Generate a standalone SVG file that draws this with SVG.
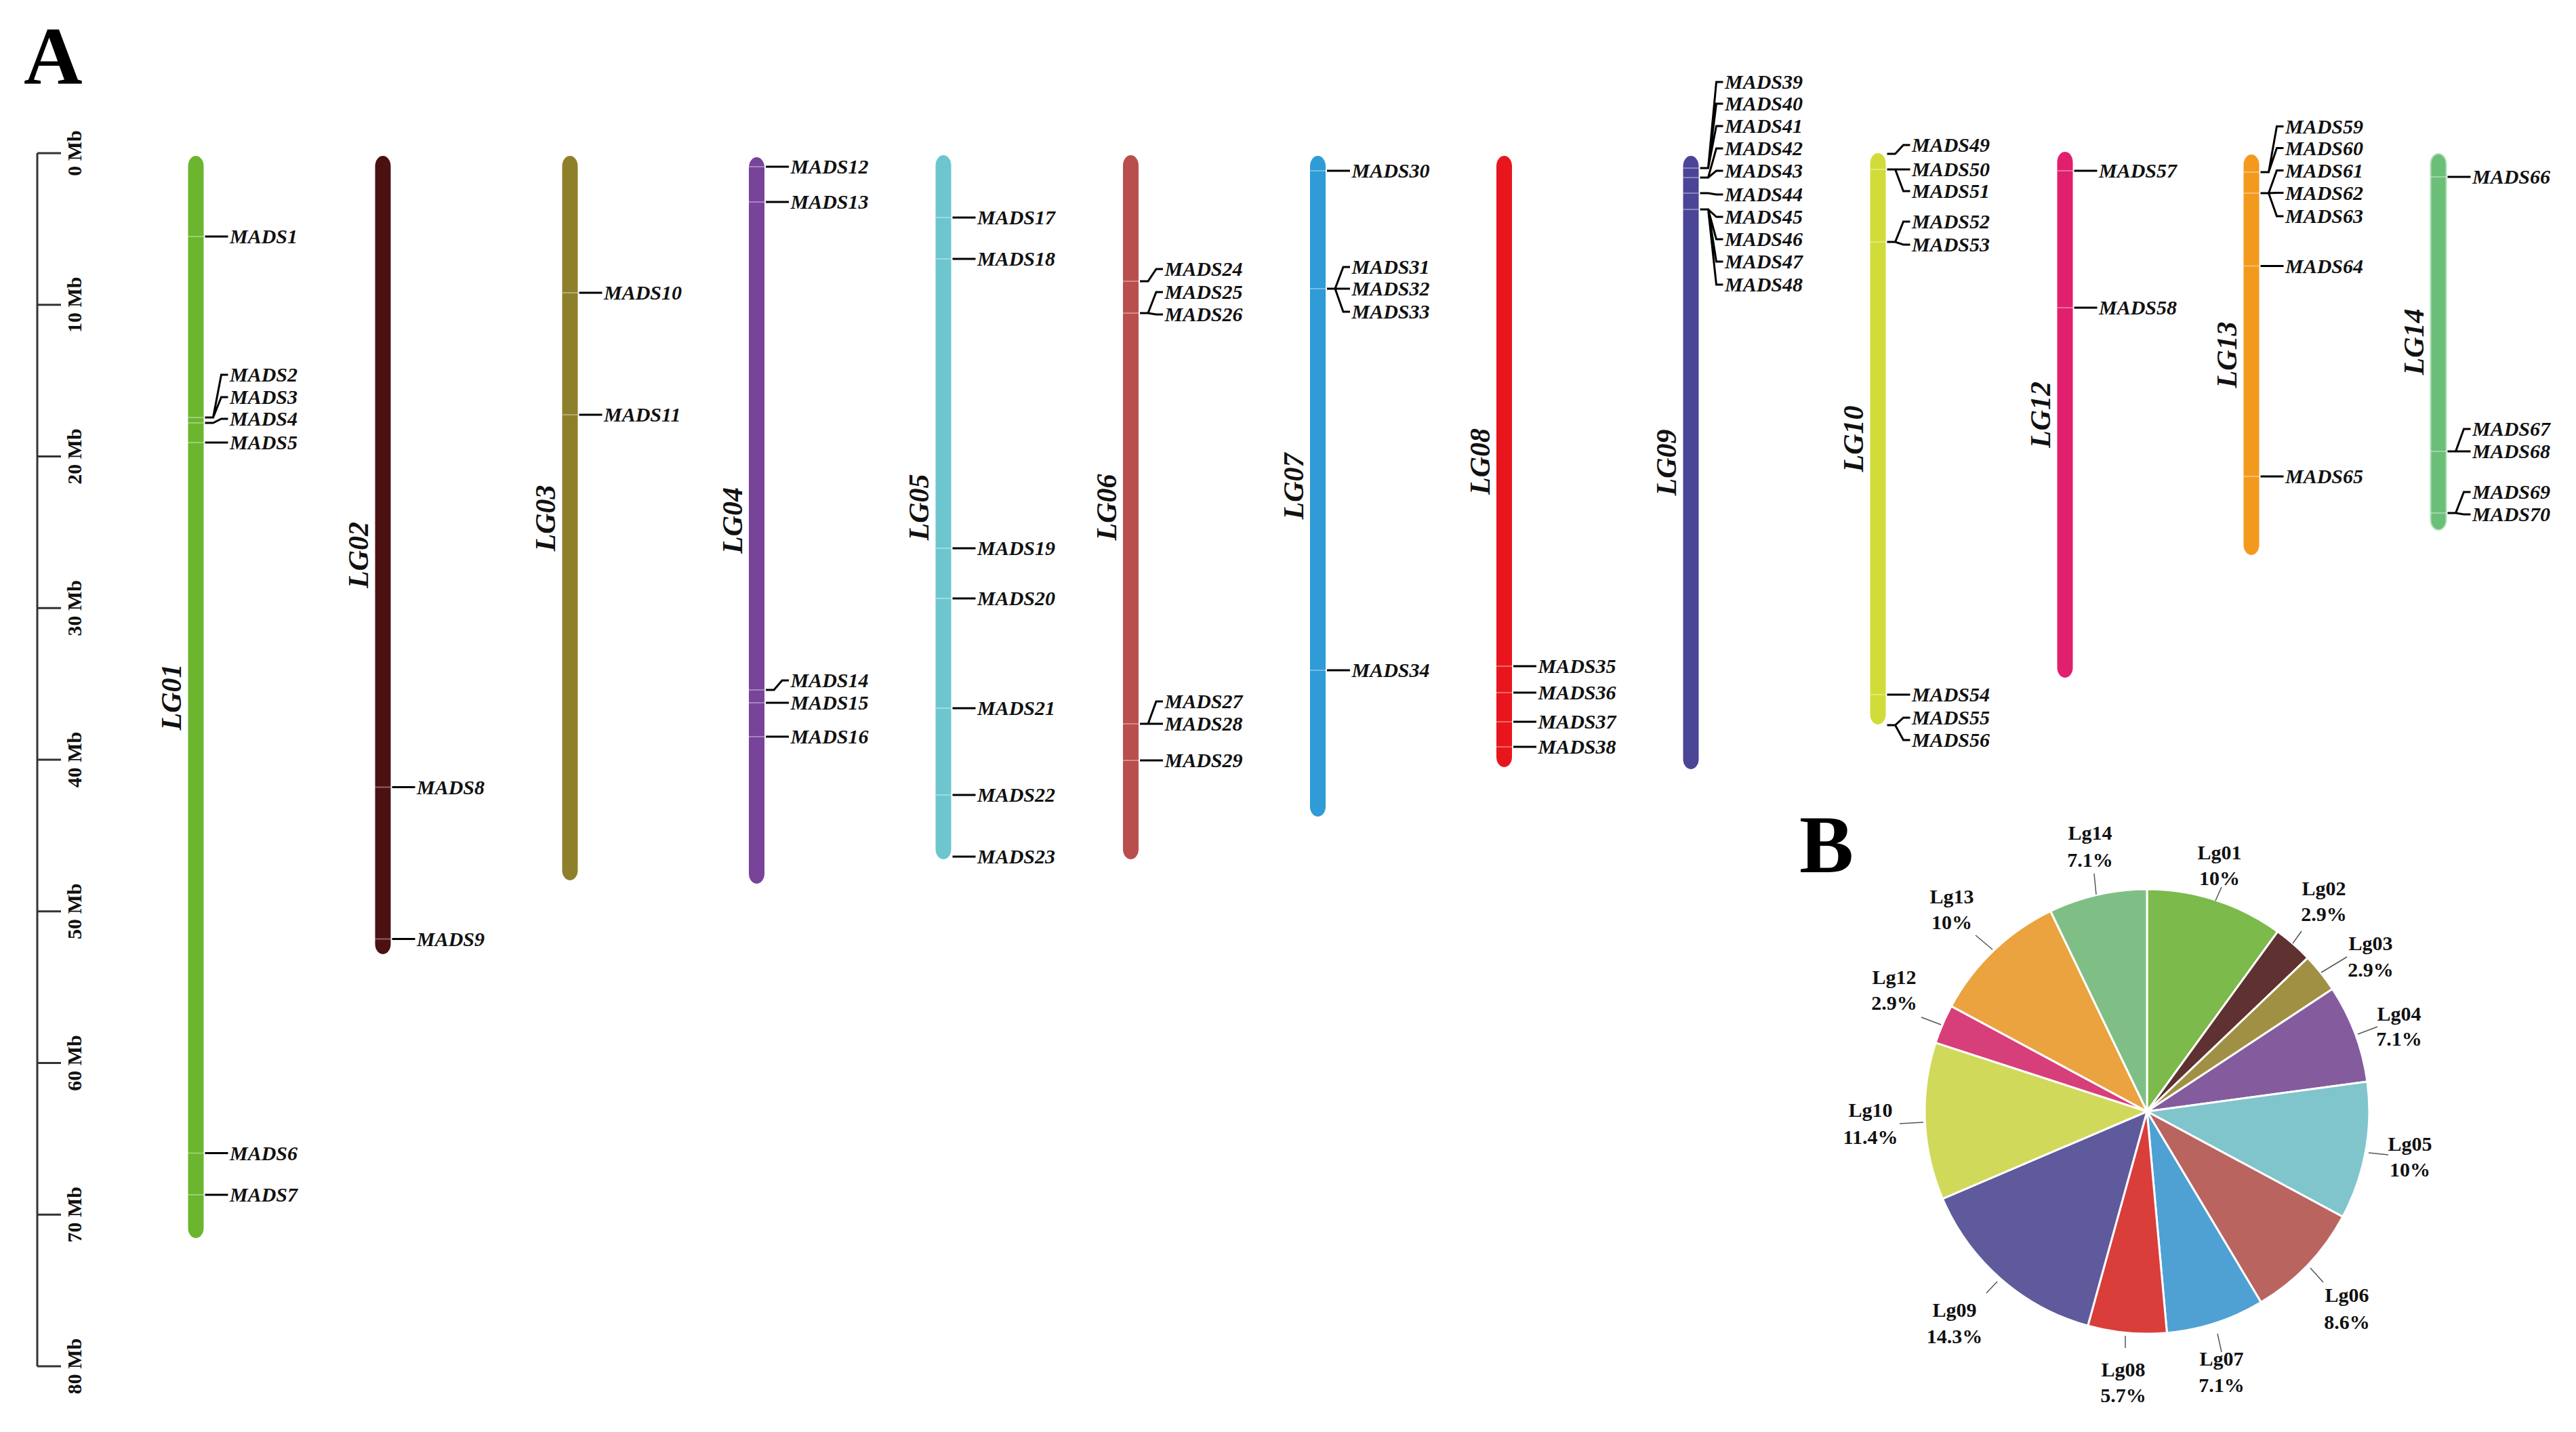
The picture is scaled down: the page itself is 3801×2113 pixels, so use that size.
<svg xmlns="http://www.w3.org/2000/svg" width="3801" height="2113" viewBox="0 0 3801 2113">
<style>
.g{font-family:"Liberation Serif","Times New Roman",serif;font-weight:bold;font-style:italic;font-size:30px;fill:#111}
.lg{font-family:"Liberation Serif","Times New Roman",serif;font-weight:bold;font-style:italic;font-size:42px;fill:#111}
.mb{font-family:"Liberation Serif","Times New Roman",serif;font-weight:bold;font-size:30px;fill:#111}
.pl{font-family:"Liberation Serif","Times New Roman",serif;font-weight:bold;font-size:30px;fill:#111;text-anchor:middle}
.big{font-family:"Liberation Serif","Times New Roman",serif;font-weight:bold;font-size:120px;fill:#000}
.c{stroke:#000;stroke-width:3;fill:none}
.mk{stroke:#fff;stroke-opacity:.35;stroke-width:2}
.sc{stroke:#333;stroke-width:3;fill:none}
.sl{stroke:#fff;stroke-width:3}
.ld{stroke:#555;stroke-width:1.5}
</style>
<rect width="3801" height="2113" fill="#fff"/>
<text class="big" x="35" y="123">A</text>
<text class="big" x="2655" y="1287">B</text>

<g id="scale">
<path class="sc" d="M55 226V2016M55 226H90M55 449.75H90M55 673.5H90M55 897.25H90M55 1121H90M55 1344.75H90M55 1568.5H90M55 1792.25H90M55 2016H90"/>
<text class="mb" text-anchor="middle" transform="translate(120,226) rotate(-90)">0 Mb</text>
<text class="mb" text-anchor="middle" transform="translate(120,449.75) rotate(-90)">10 Mb</text>
<text class="mb" text-anchor="middle" transform="translate(120,673.5) rotate(-90)">20 Mb</text>
<text class="mb" text-anchor="middle" transform="translate(120,897.25) rotate(-90)">30 Mb</text>
<text class="mb" text-anchor="middle" transform="translate(120,1121) rotate(-90)">40 Mb</text>
<text class="mb" text-anchor="middle" transform="translate(120,1344.75) rotate(-90)">50 Mb</text>
<text class="mb" text-anchor="middle" transform="translate(120,1568.5) rotate(-90)">60 Mb</text>
<text class="mb" text-anchor="middle" transform="translate(120,1792.25) rotate(-90)">70 Mb</text>
<text class="mb" text-anchor="middle" transform="translate(120,2016) rotate(-90)">80 Mb</text>
</g>

<g id="LG01">
<rect x="277.5" y="230" width="23" height="1597" rx="11.5" ry="15" fill="#6bb62e"/>
<path class="mk" d="M277.5 349H300.5M277.5 616H300.5M277.5 624H300.5M277.5 653H300.5M277.5 1701.5H300.5M277.5 1763H300.5"/>
<text class="lg" text-anchor="middle" transform="translate(267,1028.5) rotate(-90)">LG01</text>
<text class="g" x="339" y="359">MADS1</text>
<text class="g" x="339" y="563">MADS2</text>
<text class="g" x="339" y="596">MADS3</text>
<text class="g" x="339" y="628">MADS4</text>
<text class="g" x="339" y="663">MADS5</text>
<text class="g" x="339" y="1711.5">MADS6</text>
<text class="g" x="339" y="1773">MADS7</text>
</g>

<g id="LG02">
<rect x="553.5" y="230" width="23" height="1178" rx="11.5" ry="15" fill="#4b1111"/>
<path class="mk" d="M553.5 1161.5H576.5M553.5 1385.5H576.5"/>
<text class="lg" text-anchor="middle" transform="translate(543,819) rotate(-90)">LG02</text>
<text class="g" x="615" y="1171.5">MADS8</text>
<text class="g" x="615" y="1395.5">MADS9</text>
</g>

<g id="LG03">
<rect x="829.5" y="230" width="23" height="1069" rx="11.5" ry="15" fill="#8e7f2a"/>
<path class="mk" d="M829.5 432H852.5M829.5 612H852.5"/>
<text class="lg" text-anchor="middle" transform="translate(819,764.5) rotate(-90)">LG03</text>
<text class="g" x="891" y="442">MADS10</text>
<text class="g" x="891" y="622">MADS11</text>
</g>

<g id="LG04">
<rect x="1105" y="232" width="23" height="1072" rx="11.5" ry="15" fill="#78449a"/>
<path class="mk" d="M1105 246H1128M1105 298H1128M1105 1018H1128M1105 1037H1128M1105 1087H1128"/>
<text class="lg" text-anchor="middle" transform="translate(1094.5,768) rotate(-90)">LG04</text>
<text class="g" x="1166.5" y="256">MADS12</text>
<text class="g" x="1166.5" y="308">MADS13</text>
<text class="g" x="1166.5" y="1014">MADS14</text>
<text class="g" x="1166.5" y="1047">MADS15</text>
<text class="g" x="1166.5" y="1097">MADS16</text>
</g>

<g id="LG05">
<rect x="1380.5" y="229" width="23" height="1039" rx="11.5" ry="15" fill="#6dc6ce"/>
<path class="mk" d="M1380.5 321H1403.5M1380.5 382H1403.5M1380.5 809H1403.5M1380.5 883H1403.5M1380.5 1045H1403.5M1380.5 1173H1403.5"/>
<text class="lg" text-anchor="middle" transform="translate(1370,748.5) rotate(-90)">LG05</text>
<text class="g" x="1442" y="331">MADS17</text>
<text class="g" x="1442" y="392">MADS18</text>
<text class="g" x="1442" y="819">MADS19</text>
<text class="g" x="1442" y="893">MADS20</text>
<text class="g" x="1442" y="1055">MADS21</text>
<text class="g" x="1442" y="1183">MADS22</text>
<text class="g" x="1442" y="1274">MADS23</text>
</g>

<g id="LG06">
<rect x="1657" y="229" width="23" height="1039" rx="11.5" ry="15" fill="#b84f4d"/>
<path class="mk" d="M1657 415H1680M1657 462H1680M1657 1068H1680M1657 1122H1680"/>
<text class="lg" text-anchor="middle" transform="translate(1646.5,748.5) rotate(-90)">LG06</text>
<text class="g" x="1718.5" y="407">MADS24</text>
<text class="g" x="1718.5" y="441">MADS25</text>
<text class="g" x="1718.5" y="474">MADS26</text>
<text class="g" x="1718.5" y="1045">MADS27</text>
<text class="g" x="1718.5" y="1078">MADS28</text>
<text class="g" x="1718.5" y="1132">MADS29</text>
</g>

<g id="LG07">
<rect x="1933" y="230" width="23" height="975" rx="11.5" ry="15" fill="#2f9bd7"/>
<path class="mk" d="M1933 252H1956M1933 426H1956M1933 989H1956"/>
<text class="lg" text-anchor="middle" transform="translate(1922.5,717.5) rotate(-90)">LG07</text>
<text class="g" x="1994.5" y="262">MADS30</text>
<text class="g" x="1994.5" y="404">MADS31</text>
<text class="g" x="1994.5" y="436">MADS32</text>
<text class="g" x="1994.5" y="470">MADS33</text>
<text class="g" x="1994.5" y="999">MADS34</text>
</g>

<g id="LG08">
<rect x="2208" y="230" width="23" height="902" rx="11.5" ry="15" fill="#e8161c"/>
<path class="mk" d="M2208 983H2231M2208 1022H2231M2208 1065H2231M2208 1102H2231"/>
<text class="lg" text-anchor="middle" transform="translate(2197.5,681) rotate(-90)">LG08</text>
<text class="g" x="2269.5" y="993">MADS35</text>
<text class="g" x="2269.5" y="1032">MADS36</text>
<text class="g" x="2269.5" y="1075">MADS37</text>
<text class="g" x="2269.5" y="1112">MADS38</text>
</g>

<g id="LG09">
<rect x="2483.5" y="230" width="23" height="905" rx="11.5" ry="15" fill="#4a4597"/>
<path class="mk" d="M2483.5 248H2506.5M2483.5 262H2506.5M2483.5 285H2506.5M2483.5 309H2506.5"/>
<text class="lg" text-anchor="middle" transform="translate(2473,682.5) rotate(-90)">LG09</text>
<text class="g" x="2545" y="131">MADS39</text>
<text class="g" x="2545" y="163">MADS40</text>
<text class="g" x="2545" y="196">MADS41</text>
<text class="g" x="2545" y="229">MADS42</text>
<text class="g" x="2545" y="262">MADS43</text>
<text class="g" x="2545" y="297">MADS44</text>
<text class="g" x="2545" y="330">MADS45</text>
<text class="g" x="2545" y="363">MADS46</text>
<text class="g" x="2545" y="396">MADS47</text>
<text class="g" x="2545" y="430">MADS48</text>
</g>

<g id="LG10">
<rect x="2759.5" y="226" width="23" height="843" rx="11.5" ry="15" fill="#d2dc38"/>
<path class="mk" d="M2759.5 250H2782.5M2759.5 357H2782.5M2759.5 1025H2782.5"/>
<text class="lg" text-anchor="middle" transform="translate(2749,647.5) rotate(-90)">LG10</text>
<text class="g" x="2821" y="224">MADS49</text>
<text class="g" x="2821" y="260">MADS50</text>
<text class="g" x="2821" y="292">MADS51</text>
<text class="g" x="2821" y="337">MADS52</text>
<text class="g" x="2821" y="371">MADS53</text>
<text class="g" x="2821" y="1035">MADS54</text>
<text class="g" x="2821" y="1069">MADS55</text>
<text class="g" x="2821" y="1102">MADS56</text>
</g>

<g id="LG12">
<rect x="3035.5" y="224" width="23" height="776" rx="11.5" ry="15" fill="#e11f6f"/>
<path class="mk" d="M3035.5 252H3058.5M3035.5 454H3058.5"/>
<text class="lg" text-anchor="middle" transform="translate(3025,612) rotate(-90)">LG12</text>
<text class="g" x="3097" y="262">MADS57</text>
<text class="g" x="3097" y="464">MADS58</text>
</g>

<g id="LG13">
<rect x="3310.5" y="228" width="23" height="591" rx="11.5" ry="15" fill="#f39a1e"/>
<path class="mk" d="M3310.5 254H3333.5M3310.5 285H3333.5M3310.5 392.5H3333.5M3310.5 703H3333.5"/>
<text class="lg" text-anchor="middle" transform="translate(3300,523.5) rotate(-90)">LG13</text>
<text class="g" x="3372" y="196.5">MADS59</text>
<text class="g" x="3372" y="228.5">MADS60</text>
<text class="g" x="3372" y="261.5">MADS61</text>
<text class="g" x="3372" y="294.5">MADS62</text>
<text class="g" x="3372" y="329">MADS63</text>
<text class="g" x="3372" y="402.5">MADS64</text>
<text class="g" x="3372" y="713">MADS65</text>
</g>

<g id="LG14">
<rect x="3586.5" y="227" width="23" height="555" rx="11.5" ry="15" fill="#6bbf78" stroke="#b4e0b9" stroke-width="2"/>
<path class="mk" d="M3586.5 261H3609.5M3586.5 666H3609.5M3586.5 757H3609.5"/>
<text class="lg" text-anchor="middle" transform="translate(3576,504.5) rotate(-90)">LG14</text>
<text class="g" x="3648" y="271">MADS66</text>
<text class="g" x="3648" y="643">MADS67</text>
<text class="g" x="3648" y="676">MADS68</text>
<text class="g" x="3648" y="736">MADS69</text>
<text class="g" x="3648" y="769">MADS70</text>
</g>

<g id="connectors">
<path class="c" d="M302.5 349L336.5 349M302.5 616H314.5L326.5 553H336.5M302.5 616H314.5L326.5 586H336.5M302.5 624H314.5L326.5 618H336.5M302.5 653L336.5 653M302.5 1701.5L336.5 1701.5M302.5 1763L336.5 1763"/>
<path class="c" d="M578.5 1161.5L612.5 1161.5M578.5 1385.5L612.5 1385.5"/>
<path class="c" d="M854.5 432L888.5 432M854.5 612L888.5 612"/>
<path class="c" d="M1130 246L1164 246M1130 298L1164 298M1130 1018H1142L1154 1004H1164M1130 1037L1164 1037M1130 1087L1164 1087"/>
<path class="c" d="M1405.5 321L1439.5 321M1405.5 382L1439.5 382M1405.5 809L1439.5 809M1405.5 883L1439.5 883M1405.5 1045L1439.5 1045M1405.5 1173L1439.5 1173M1405.5 1264L1439.5 1264"/>
<path class="c" d="M1682 415H1694L1706 397H1716M1682 462H1694L1706 431H1716M1682 462H1694L1706 464H1716M1682 1068H1694L1706 1035H1716M1682 1068H1694L1706 1068H1716M1682 1122L1716 1122"/>
<path class="c" d="M1958 252L1992 252M1958 426H1970L1982 394H1992M1958 426H1970L1982 426H1992M1958 426H1970L1982 460H1992M1958 989L1992 989"/>
<path class="c" d="M2233 983L2267 983M2233 1022L2267 1022M2233 1065L2267 1065M2233 1102L2267 1102"/>
<path class="c" d="M2508.5 248H2520.5L2532.5 121H2542.5M2508.5 248H2520.5L2532.5 153H2542.5M2508.5 248H2520.5L2532.5 186H2542.5M2508.5 262H2520.5L2532.5 219H2542.5M2508.5 262H2520.5L2532.5 252H2542.5M2508.5 285H2520.5L2532.5 287H2542.5M2508.5 309H2520.5L2532.5 320H2542.5M2508.5 309H2520.5L2532.5 353H2542.5M2508.5 309H2520.5L2532.5 386H2542.5M2508.5 309H2520.5L2532.5 420H2542.5"/>
<path class="c" d="M2784.5 227H2796.5L2808.5 214H2818.5M2784.5 250H2796.5L2808.5 250H2818.5M2784.5 250H2796.5L2808.5 282H2818.5M2784.5 357H2796.5L2808.5 327H2818.5M2784.5 357H2796.5L2808.5 361H2818.5M2784.5 1025L2818.5 1025M2784.5 1070H2796.5L2808.5 1059H2818.5M2784.5 1070H2796.5L2808.5 1092H2818.5"/>
<path class="c" d="M3060.5 252L3094.5 252M3060.5 454L3094.5 454"/>
<path class="c" d="M3335.5 254H3347.5L3359.5 186.5H3369.5M3335.5 254H3347.5L3359.5 218.5H3369.5M3335.5 285H3347.5L3359.5 251.5H3369.5M3335.5 285H3347.5L3359.5 284.5H3369.5M3335.5 285H3347.5L3359.5 319H3369.5M3335.5 392.5L3369.5 392.5M3335.5 703L3369.5 703"/>
<path class="c" d="M3611.5 261L3645.5 261M3611.5 666H3623.5L3635.5 633H3645.5M3611.5 666H3623.5L3635.5 666H3645.5M3611.5 757H3623.5L3635.5 726H3645.5M3611.5 757H3623.5L3635.5 759H3645.5"/>
</g>

<g id="pie">
<g id="Lg01"><path class="sl" fill="#7bba4b" d="M3168 1640L3168 1312A328 328 0 0 1 3360.8 1374.6Z"/></g>
<g id="Lg02"><path class="sl" fill="#5f3131" d="M3168 1640L3360.8 1374.6A328 328 0 0 1 3405.2 1413.4Z"/></g>
<g id="Lg03"><path class="sl" fill="#a09043" d="M3168 1640L3405.2 1413.4A328 328 0 0 1 3441.7 1459.3Z"/></g>
<g id="Lg04"><path class="sl" fill="#845c9d" d="M3168 1640L3441.7 1459.3A328 328 0 0 1 3493 1596Z"/></g>
<g id="Lg05"><path class="sl" fill="#80c5cc" d="M3168 1640L3493 1596A328 328 0 0 1 3456.8 1795.4Z"/></g>
<g id="Lg06"><path class="sl" fill="#ba6460" d="M3168 1640L3456.8 1795.4A328 328 0 0 1 3336.2 1921.6Z"/></g>
<g id="Lg07"><path class="sl" fill="#4fa1d3" d="M3168 1640L3336.2 1921.6A328 328 0 0 1 3197.4 1966.7Z"/></g>
<g id="Lg08"><path class="sl" fill="#d93e3b" d="M3168 1640L3197.4 1966.7A328 328 0 0 1 3080.7 1956.2Z"/></g>
<g id="Lg09"><path class="sl" fill="#5e5a9c" d="M3168 1640L3080.7 1956.2A328 328 0 0 1 2866.4 1768.9Z"/></g>
<g id="Lg10"><path class="sl" fill="#d1d95a" d="M3168 1640L2866.4 1768.9A328 328 0 0 1 2856.1 1538.6Z"/></g>
<g id="Lg12"><path class="sl" fill="#d73f7a" d="M3168 1640L2856.1 1538.6A328 328 0 0 1 2879.2 1484.6Z"/></g>
<g id="Lg13"><path class="sl" fill="#eaa33e" d="M3168 1640L2879.2 1484.6A328 328 0 0 1 3025.7 1344.5Z"/></g>
<g id="Lg14"><path class="sl" fill="#7fbf86" d="M3168 1640L3025.7 1344.5A328 328 0 0 1 3168 1312Z"/></g>
<g id="pie-leaders">
<path class="ld" d="M3090 1289L3093 1320M3278 1309L3269 1329M3396 1374L3383 1392M3463 1412L3425 1435M3508 1515L3479 1526M3524 1704L3495 1701M3428 1892L3409 1871M3278 1995L3272 1968M3136 1989L3136 1971M2931 1908L2947 1891M2803 1658L2838 1656M2835 1501L2864 1512M2915 1380L2940 1401"/>
</g>
<g id="pie-labels">
<text class="pl" x="3084" y="1239">Lg14</text><text class="pl" x="3084" y="1279">7.1%</text>
<text class="pl" x="3275" y="1268">Lg01</text><text class="pl" x="3275" y="1306">10%</text>
<text class="pl" x="3429" y="1321">Lg02</text><text class="pl" x="3429" y="1359">2.9%</text>
<text class="pl" x="3498" y="1402">Lg03</text><text class="pl" x="3498" y="1441">2.9%</text>
<text class="pl" x="3540" y="1506">Lg04</text><text class="pl" x="3540" y="1543">7.1%</text>
<text class="pl" x="3556" y="1698">Lg05</text><text class="pl" x="3556" y="1736">10%</text>
<text class="pl" x="3463" y="1921">Lg06</text><text class="pl" x="3463" y="1961">8.6%</text>
<text class="pl" x="3278" y="2015">Lg07</text><text class="pl" x="3278" y="2054">7.1%</text>
<text class="pl" x="3133" y="2031">Lg08</text><text class="pl" x="3133" y="2069">5.7%</text>
<text class="pl" x="2884" y="1943">Lg09</text><text class="pl" x="2884" y="1982">14.3%</text>
<text class="pl" x="2760" y="1648">Lg10</text><text class="pl" x="2760" y="1688">11.4%</text>
<text class="pl" x="2795" y="1452">Lg12</text><text class="pl" x="2795" y="1490">2.9%</text>
<text class="pl" x="2880" y="1333">Lg13</text><text class="pl" x="2880" y="1371">10%</text>
</g>
</g>
</svg>
